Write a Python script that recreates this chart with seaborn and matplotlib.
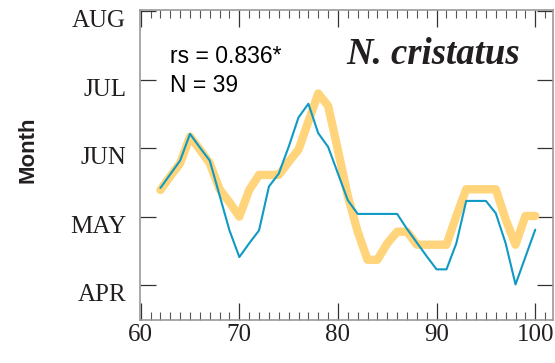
import matplotlib
matplotlib.use("Agg")
import matplotlib.pyplot as plt
from matplotlib.ticker import MultipleLocator
from matplotlib.transforms import ScaledTranslation
import seaborn as sns
import pandas as pd

years = list(range(62, 101))
observed = [5.42, 5.62, 5.82, 6.21, 6.01, 5.82, 5.31, 4.80, 4.41, 4.61,
            4.80, 5.44, 5.63, 6.02, 6.45, 6.65, 6.22, 6.02, 5.63, 5.24,
            5.04, 5.04, 5.04, 5.04, 5.04, 4.82, 4.62, 4.42, 4.23, 4.23,
            4.61, 5.23, 5.23, 5.23, 5.05, 4.61, 4.01, 4.41, 4.81]
modelled = [5.39, 5.59, 5.78, 6.17, 5.98, 5.78, 5.40, 5.21, 5.00, 5.39,
            5.61, 5.61, 5.61, 5.80, 5.98, 6.39, 6.80, 6.62, 5.97, 5.30,
            4.78, 4.37, 4.37, 4.61, 4.78, 4.78, 4.59, 4.59, 4.59, 4.59,
            5.01, 5.40, 5.40, 5.40, 5.40, 4.96, 4.59, 5.01, 5.01]
month_ticks = [4, 5, 6, 7, 8]
month_labels = ["APR", "MAY", "JUN", "JUL", "AUG"]
x_ticks = [60, 70, 80, 90, 100]

df = pd.DataFrame({"year": years, "observed": observed, "modelled": modelled})

sns.set_style("white")
fig = plt.figure(figsize=(5.55, 3.63), dpi=100)
ax = fig.add_axes([140 / 555, 1 - 320 / 363, 413 / 555, 310 / 363])

sns.lineplot(data=df, x="year", y="modelled", ax=ax, color="#FFD47A",
             linewidth=6.0, solid_capstyle="round", solid_joinstyle="round")
sns.lineplot(data=df, x="year", y="observed", ax=ax, color="#0F9AC3",
             linewidth=1.5)

ax.set_xlim(59.93, 101.8)
ax.set_ylim(3.49, 8.02)
ax.set_xticks(x_ticks)
ax.xaxis.set_minor_locator(MultipleLocator(1))
ax.set_yticks(month_ticks)
ax.set_yticklabels(month_labels)

serif = ["Liberation Serif", "DejaVu Serif"]
for lab in ax.get_xticklabels() + ax.get_yticklabels():
    lab.set_family(serif)
    lab.set_fontsize(18)
    lab.set_color("#231f20")

ax.tick_params(axis="x", which="major", direction="in", length=12, width=0.9,
               top=True, bottom=True, color="#333333", pad=3)
ax.tick_params(axis="x", which="minor", direction="in", length=6, width=0.8,
               top=True, bottom=True, color="#555555")
ax.tick_params(axis="y", which="major", direction="in", length=11.5, width=0.9,
               left=True, right=True, color="#333333", pad=10)

shift = ScaledTranslation(0, -0.075, fig.dpi_scale_trans)
for tick in ax.yaxis.get_major_ticks():
    tick.label1.set_transform(tick.label1.get_transform() + shift)

for sp in ax.spines.values():
    sp.set_color("#999999")
    sp.set_linewidth(1.2)

ax.set_xlabel("")
ax.set_ylabel("Month", family=["Liberation Sans", "DejaVu Sans"],
              fontweight="bold", fontsize=16, color="#231f20")
ax.yaxis.set_label_coords(-0.245, 0.55)

ax.text(0.073, 0.83, "rs = 0.836*", transform=ax.transAxes,
        family=["Liberation Sans", "DejaVu Sans"], fontsize=16.5, color="black")
ax.text(0.073, 0.735, "N = 39", transform=ax.transAxes,
        family=["Liberation Sans", "DejaVu Sans"], fontsize=16.5, color="black")
ax.text(0.92, 0.825, "N. cristatus", transform=ax.transAxes, ha="right",
        family=serif, fontsize=26.5, fontweight="bold", fontstyle="italic",
        color="#231f20")

fig.savefig("out.png", dpi=100)
